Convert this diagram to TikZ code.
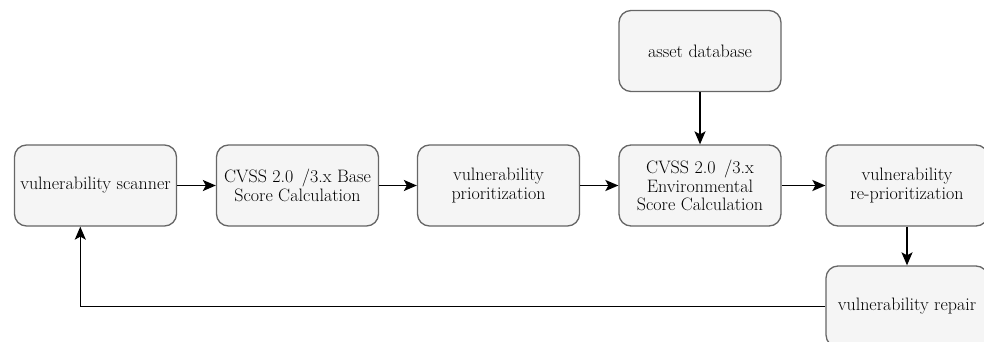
\documentclass[tikz,border=0pt]{standalone}
\usetikzlibrary{arrows.meta}
\definecolor{boxfill}{HTML}{F5F5F5}
\definecolor{boxline}{HTML}{666666}
\tikzset{
  procbox/.style={draw=boxline, fill=boxfill, line width=1.3pt, rounded corners=12pt,
    minimum width=162pt, minimum height=81pt, align=center, inner sep=2pt,
    font=\fontsize{18}{18.7}\selectfont},
  flow/.style={-{Stealth[length=13pt,width=11pt,inset=3pt]}, line width=1.7pt, black},
}
\begin{document}
\begin{tikzpicture}[x=1pt,y=-1pt]
\useasboundingbox (0,0) rectangle (984,342);
\clip (0,0) rectangle (984,342);
\node[procbox] (scan) at (95.5,185.5) {vulnerability scanner};
\node[procbox] (base) at (297.5,185.5) {CVSS 2.0 \,/3.x Base\\Score Calculation};
\node[procbox] (prio) at (498.5,185.5) {vulnerability\\prioritization};
\node[procbox] (env) at (700,185.5) {CVSS 2.0 \,/3.x\\Environmental\\Score Calculation};
\node[procbox] (asset) at (700,51) {asset database};
\node[procbox] (repr) at (907,185.5) {vulnerability\\re-prioritization};
\node[procbox] (fix) at (907,306.5) {vulnerability repair};
\coordinate (corner) at (80.3,306.5);
\draw[flow] (scan) -- (base);
\draw[flow] (base) -- (prio);
\draw[flow] (prio) -- (env);
\draw[flow] (asset) -- (env);
\draw[flow] (env) -- (repr);
\draw[flow] (repr) -- (fix);
\draw[flow, line width=1.4pt] (fix.west) -- (corner) -- (corner |- scan.south);
\end{tikzpicture}
\end{document}
